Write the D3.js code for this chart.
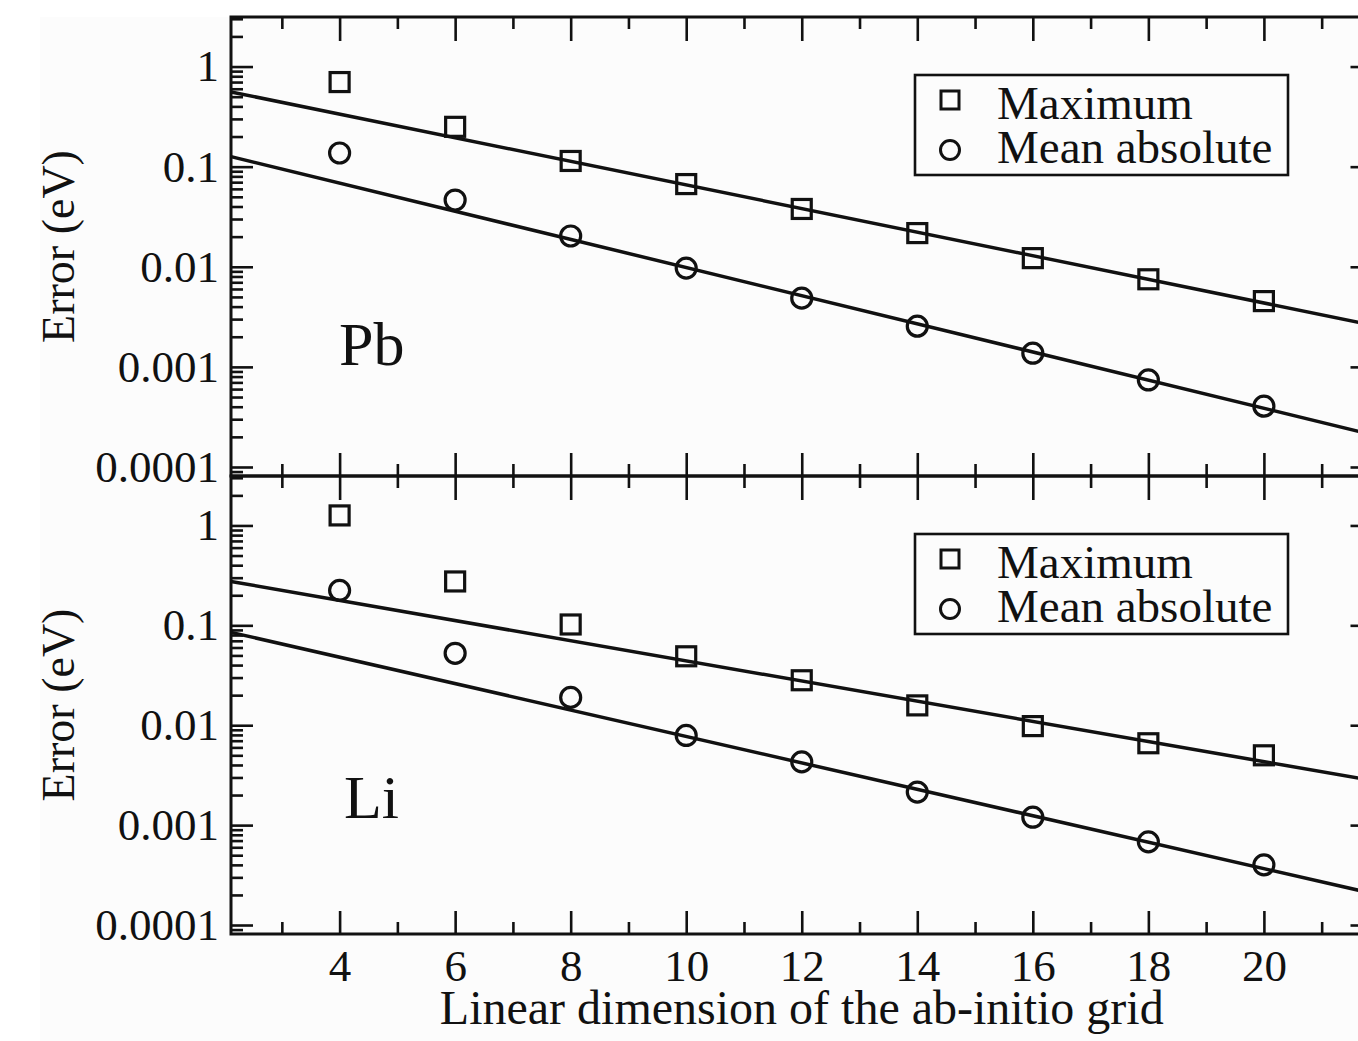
<!DOCTYPE html>
<html>
<head>
<meta charset="utf-8">
<script src="https://cdn.jsdelivr.net/npm/d3@7"></script>
<style>
    body { margin: 0; background: #fff; }
    svg text { font-family: "Liberation Serif", "Times New Roman", serif; fill: #111; }
</style>
</head>
<body>
<svg id="chart" width="1358" height="1041"></svg>
<script>
// grid sizes on the x axis
const gridSizes = [4, 6, 8, 10, 12, 14, 16, 18, 20];
const xMajorTicks = [4, 6, 8, 10, 12, 14, 16, 18, 20];
const xMinorTicks = [3, 5, 7, 9, 11, 13, 15, 17, 19, 21];
const yMajorTicks = [0.0001, 0.001, 0.01, 0.1, 1];
const yTickLabels = ["0.0001", "0.001", "0.01", "0.1", "1"];

// Pb panel
const pbMaximum = [0.70, 0.25, 0.114, 0.067, 0.0378, 0.0217, 0.0122, 0.0075, 0.00454];
const pbMean = [0.137, 0.0464, 0.0203, 0.0097, 0.00486, 0.00255, 0.00137, 0.00074, 0.000405];
// Li panel
const liMaximum = [1.26, 0.275, 0.102, 0.049, 0.0282, 0.0158, 0.0098, 0.0066, 0.0050];
const liMean = [0.224, 0.0525, 0.019, 0.0079, 0.0043, 0.00214, 0.0012, 0.00068, 0.0004];

// straight fit lines (values read at both ends of the x range)
const fitX = [2.12, 21.88];
const pbMaxFit = [0.558, 0.00261];
const pbMeanFit = [0.126, 0.00021];
const liMaxFit = [0.275, 0.00279];
const liMeanFit = [0.0851, 0.000207];

const panelNames = ["Pb", "Li"];
const legendLabels = ["Maximum", "Mean absolute"];

const svg = d3.select("#chart");

// faint grey paper like the scan
svg.append("rect").attr("x", 40).attr("y", 17).attr("width", 1318).attr("height", 1024).attr("fill", "#fcfcfc");

const left = 231, right = 1372.5;
const x = d3.scaleLinear().domain([2.12, 21.88]).range([left, right]);

const panels = [
    { name: panelNames[0], top: 17, bottom: 476, max: pbMaximum, mean: pbMean, maxFit: pbMaxFit, meanFit: pbMeanFit, legendY: 75, labelX: 339, labelY: 365 },
    { name: panelNames[1], top: 476, bottom: 934, max: liMaximum, mean: liMean, maxFit: liMaxFit, meanFit: liMeanFit, legendY: 534, labelX: 344, labelY: 818 }
];

panels.forEach((p, pi) => {
    const y = d3.scaleLog().domain([Math.pow(10, -4.09), Math.pow(10, 0.495)]).range([p.bottom, p.top]);
    const g = svg.append("g");

    const yMinor = y.ticks().filter(v => !yMajorTicks.some(m => Math.abs(m - v) / m < 1e-6));

    // left axis
    const leftMinor = g.append("g").attr("transform", `translate(${left},0)`)
        .call(d3.axisLeft(y).tickValues(yMinor).tickSize(-12).tickFormat(""));
    const leftMajor = g.append("g").attr("transform", `translate(${left},0)`)
        .call(d3.axisLeft(y).tickValues(yMajorTicks).tickSize(-22).tickPadding(12)
            .tickFormat((d, i) => yTickLabels[i]));
    // right axis
    const rightMinor = g.append("g").attr("transform", `translate(${right},0)`)
        .call(d3.axisRight(y).tickValues(yMinor).tickSize(-12).tickFormat(""));
    const rightMajor = g.append("g").attr("transform", `translate(${right},0)`)
        .call(d3.axisRight(y).tickValues(yMajorTicks).tickSize(-22).tickFormat(""));
    // top and bottom x ticks, pointing inward
    const topMinor = g.append("g").attr("transform", `translate(0,${p.top})`)
        .call(d3.axisTop(x).tickValues(xMinorTicks).tickSize(-12).tickFormat(""));
    const topMajor = g.append("g").attr("transform", `translate(0,${p.top})`)
        .call(d3.axisTop(x).tickValues(xMajorTicks).tickSize(-24).tickFormat(""));
    const botMinor = g.append("g").attr("transform", `translate(0,${p.bottom})`)
        .call(d3.axisBottom(x).tickValues(xMinorTicks).tickSize(-12).tickFormat(""));
    const botMajor = g.append("g").attr("transform", `translate(0,${p.bottom})`)
        .call(d3.axisBottom(x).tickValues(xMajorTicks).tickSize(-23).tickPadding(15)
            .tickFormat(pi == 1 ? d3.format("d") : ""));

    [leftMinor, leftMajor, rightMinor, rightMajor, topMinor, topMajor, botMinor, botMajor].forEach(a => {
        a.select(".domain").remove();
        a.selectAll(".tick line").attr("stroke", "#111").attr("stroke-width", 2.6);
        a.selectAll(".tick text").attr("font-size", 45).attr("fill", "#111")
            .attr("font-family", "Liberation Serif, serif");
    });

    // frame
    g.append("rect").attr("x", left).attr("y", p.top)
        .attr("width", right - left).attr("height", p.bottom - p.top)
        .attr("fill", "none").attr("stroke", "#111").attr("stroke-width", 3);

    // fit lines
    const line = d3.line().x(d => x(d[0])).y(d => y(d[1]));
    [p.maxFit, p.meanFit].forEach(f => {
        g.append("path").datum(fitX.map((v, i) => [v, f[i]]))
            .attr("d", line).attr("fill", "none").attr("stroke", "#111").attr("stroke-width", 3.5);
    });

    // squares
    g.selectAll(".sq").data(gridSizes.map((v, i) => [v, p.max[i]])).enter()
        .append("rect").attr("class", "sq")
        .attr("x", d => x(d[0]) - 9.5).attr("y", d => y(d[1]) - 9.5)
        .attr("width", 19).attr("height", 19)
        .attr("fill", "none").attr("stroke", "#111").attr("stroke-width", 3.2);
    // circles
    g.selectAll(".ci").data(gridSizes.map((v, i) => [v, p.mean[i]])).enter()
        .append("circle").attr("class", "ci")
        .attr("cx", d => x(d[0])).attr("cy", d => y(d[1])).attr("r", 10)
        .attr("fill", "none").attr("stroke", "#111").attr("stroke-width", 3.2);

    // legend
    const lg = g.append("g").attr("transform", `translate(915,${p.legendY})`);
    lg.append("rect").attr("width", 373).attr("height", 100)
        .attr("fill", "#fcfcfc").attr("stroke", "#111").attr("stroke-width", 2.6);
    lg.append("rect").attr("x", 26).attr("y", 16).attr("width", 18).attr("height", 18)
        .attr("fill", "none").attr("stroke", "#111").attr("stroke-width", 3);
    lg.append("circle").attr("cx", 35).attr("cy", 75).attr("r", 9.5)
        .attr("fill", "none").attr("stroke", "#111").attr("stroke-width", 3);
    legendLabels.forEach((t, i) => {
        lg.append("text").attr("x", 82).attr("y", 44 + i * 44)
            .attr("font-size", 47).text(t);
    });

    // panel element label
    g.append("text").attr("x", p.labelX).attr("y", p.labelY)
        .attr("font-size", 62).text(p.name);

    // y axis title
    g.append("text")
        .attr("transform", `translate(74,${(p.top + p.bottom) / 2}) rotate(-90)`)
        .attr("text-anchor", "middle").attr("font-size", 46)
        .text("Error (eV)");
});

// x axis title
svg.append("text").attr("x", (left + right) / 2).attr("y", 1024)
    .attr("text-anchor", "middle").attr("font-size", 48)
    .text("Linear dimension of the ab-initio grid");
</script>
</body>
</html>
